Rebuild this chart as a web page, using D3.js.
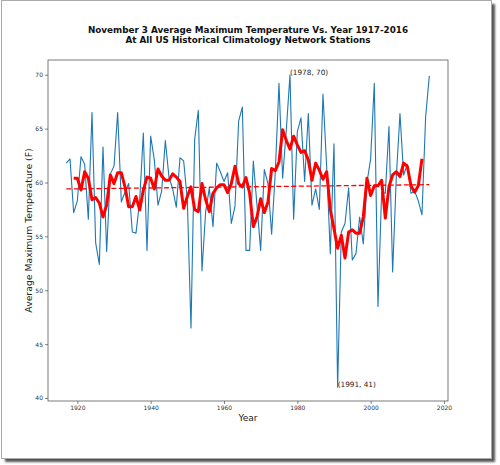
<!DOCTYPE html>
<html>
<head>
<meta charset="utf-8">
<script src="https://cdn.jsdelivr.net/npm/d3@7"></script>
<style>
  body { margin: 0; background: #fff; }
  svg { display: block; font-family: "DejaVu Sans", sans-serif; }
</style>
</head>
<body>
<svg id="chart" width="500" height="465"></svg>
<script>
// yearly values, 1917-2016
const firstYear = 1917;
const avgMaxTemp = [
  61.8, 62.2, 57.2, 58.3, 62.4, 61.7, 56.6, 66.5, 54.4, 52.4,
  63.3, 53.6, 60.8, 61.5, 66.5, 58.2, 59.1, 59.9, 55.4, 55.3,
  58.3, 64.6, 53.7, 64.3, 62.1, 57.9, 59.2, 63.9, 60.5, 59.4,
  57.7, 62.3, 62.0, 58.4, 46.5, 64.0, 66.7, 51.8, 57.3, 59.5,
  55.9, 61.8, 61.0, 60.1, 60.9, 56.2, 57.8, 65.7, 67.0, 53.7,
  53.7, 62.0, 57.9, 53.7, 61.2, 59.9, 55.2, 61.0, 69.2, 60.4,
  64.9, 70.0, 56.6, 64.7, 66.0, 60.1, 66.4, 57.9, 59.4, 57.5,
  68.2, 61.5, 53.4, 63.6, 41.0, 55.4, 56.2, 59.5, 52.8, 53.4,
  56.8, 54.3, 60.0, 62.2, 69.2, 48.5, 59.1, 59.0, 65.2, 51.7,
  60.5, 66.4, 60.7, 61.7, 59.0, 59.2, 58.3, 57.0, 66.1, 69.9
];

// thick red line, 1919-2014
const smoothFirstYear = 1919;
const smoothTemp = [
  60.4, 60.4, 59.3, 61.0, 60.4, 58.4, 58.6, 58.1, 56.8, 57.9,
  60.7, 59.9, 60.9, 60.9, 59.6, 57.75, 57.75, 58.7, 57.45, 59.3,
  60.5, 60.4, 59.4, 61.25, 60.6, 60.2, 60.2, 60.8, 60.5, 60.1,
  57.6, 58.7, 59.6, 57.5, 57.3, 59.9, 58.4, 57.3, 59.0, 59.5,
  59.8, 59.8, 59.05, 59.9, 61.5, 59.9, 59.6, 60.45, 59.0, 55.9,
  56.8, 58.5, 57.2, 58.2, 61.3, 61.1, 61.9, 64.9, 63.9, 63.1,
  64.3, 63.5, 62.8, 62.95, 62.1, 60.2, 61.8, 61.15, 60.3, 61.0,
  57.5, 55.7, 53.9, 55.1, 53.0, 55.4, 55.6, 55.3, 55.3, 56.8,
  60.4, 58.8, 59.7, 59.7, 60.2, 56.7, 59.6, 60.7, 61.0, 60.55,
  61.8, 61.5, 59.7, 59.1, 59.7, 62.2
];

// dashed trend line ends
const trendYears = [1917, 2016];
const trendTemp = [59.4, 59.8];

const xTicks = [1920, 1940, 1960, 1980, 2000, 2020];
const yTicks = [40, 45, 50, 55, 60, 65, 70];

const annotations = [
  {year: 1978, temp: 70, label: "(1978, 70)"},
  {year: 1991, temp: 41, label: "(1991, 41)"}
];

const titleLines = [
  "November 3 Average Maximum Temperature Vs. Year 1917-2016",
  "At All US Historical Climatology Network Stations"
];

const svg = d3.select("#chart");

// page frame with shadow
const defs = svg.append("defs");
defs.append("filter").attr("id", "blur")
    .append("feGaussianBlur").attr("stdDeviation", 1.2);
svg.append("rect")
    .attr("x", 5).attr("y", 4).attr("width", 490).attr("height", 458)
    .attr("fill", "#555").attr("filter", "url(#blur)");
svg.append("rect")
    .attr("x", 1.5).attr("y", 0.5).attr("width", 490).attr("height", 458)
    .attr("fill", "#fff").attr("stroke", "#aaa").attr("stroke-width", 1);

const plot = {left: 48, right: 448, top: 60, bottom: 401};

const x = d3.scaleLinear().domain([1912.0, 2021.1]).range([plot.left, plot.right]);
const y = d3.scaleLinear().domain([39.72, 71.37]).range([plot.bottom, plot.top]);

const yearly = avgMaxTemp.map((v, i) => ({year: firstYear + i, value: v}));
const smooth = smoothTemp.map((v, i) => ({year: smoothFirstYear + i, value: v}));
const trend = trendYears.map((yr, i) => ({year: yr, value: trendTemp[i]}));

const line = d3.line().x(d => x(d.year)).y(d => y(d.value));

// axes
const xAxis = svg.append("g")
    .attr("transform", `translate(0,${plot.bottom})`)
    .call(d3.axisBottom(x).tickValues(xTicks).tickFormat(d3.format("d")).tickSize(3).tickPadding(2));
const yAxis = svg.append("g")
    .attr("transform", `translate(${plot.left},0)`)
    .call(d3.axisLeft(y).tickValues(yTicks).tickSize(3).tickPadding(2));

[xAxis, yAxis].forEach(g => {
  g.select(".domain").remove();
  g.selectAll("line").attr("stroke", "#333").attr("stroke-width", 0.6);
  g.selectAll("text").attr("font-size", 6).attr("fill", "#333")
      .attr("font-family", "DejaVu Sans");
});

const clip = defs.append("clipPath").attr("id", "clip");
clip.append("rect").attr("x", plot.left).attr("y", plot.top)
    .attr("width", plot.right - plot.left).attr("height", plot.bottom - plot.top);

const lines = svg.append("g").attr("clip-path", "url(#clip)");

lines.append("path")
    .datum(yearly)
    .attr("d", line)
    .attr("fill", "none")
    .attr("stroke", "#1f77b4")
    .attr("stroke-width", 1.1)
    .attr("stroke-linejoin", "round");

lines.append("path")
    .datum(smooth)
    .attr("d", line)
    .attr("fill", "none")
    .attr("stroke", "#ff0000")
    .attr("stroke-width", 3)
    .attr("stroke-linejoin", "round");

lines.append("path")
    .datum(trend)
    .attr("d", line)
    .attr("fill", "none")
    .attr("stroke", "#ff0000")
    .attr("stroke-width", 1.3)
    .attr("stroke-dasharray", "5,2.5");

// spines
svg.append("rect")
    .attr("x", plot.left).attr("y", plot.top)
    .attr("width", plot.right - plot.left).attr("height", plot.bottom - plot.top)
    .attr("fill", "none").attr("stroke", "#444").attr("stroke-width", 0.7);

// point labels
svg.selectAll("text.note")
    .data(annotations)
    .enter()
    .append("text")
    .classed("note", true)
    .attr("x", d => x(d.year))
    .attr("y", d => y(d.temp))
    .attr("font-size", 7.3)
    .attr("fill", "#222")
    .text(d => d.label);

// titles
const cx = (plot.left + plot.right) / 2;
svg.selectAll("text.title")
    .data(titleLines)
    .enter()
    .append("text")
    .classed("title", true)
    .attr("x", cx)
    .attr("y", (d, i) => 33 + i * 10)
    .attr("text-anchor", "middle")
    .attr("font-size", 8.8)
    .attr("font-weight", "bold")
    .attr("fill", "#111")
    .text(d => d);

svg.append("text")
    .attr("x", cx)
    .attr("y", 421)
    .attr("text-anchor", "middle")
    .attr("font-size", 9)
    .attr("fill", "#222")
    .text("Year");

svg.append("text")
    .attr("transform", `translate(32,${(plot.top + plot.bottom) / 2}) rotate(-90)`)
    .attr("text-anchor", "middle")
    .attr("font-size", 9.3)
    .attr("fill", "#222")
    .text("Average Maximum Temperature (F)");
</script>
</body>
</html>
